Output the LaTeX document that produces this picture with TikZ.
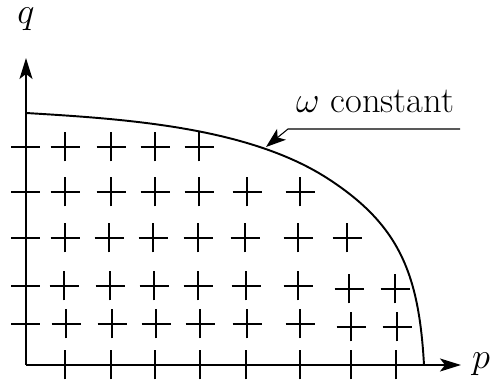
\documentclass[tikz,border=0pt]{standalone}
\usetikzlibrary{arrows.meta}
\tikzset{
  axis/.style={line width=0.9pt, -{Stealth[length=0.42cm, width=0.26cm, inset=0.1cm]}},
  cross/.style={line width=1pt},
  axlabel/.style={font=\huge, inner sep=1pt}
}
\begin{document}
\begin{tikzpicture}
\useasboundingbox (-0.52,-0.3) rectangle (9.3,7.3);
\draw[axis] (0,0) -- (8.7,0);
\draw[axis] (0,0) -- (0,6.14);
\node[axlabel, anchor=base] (plabel) at (9.1,-0.08) {$p$};
\node[axlabel, anchor=base] (qlabel) at (0,6.82) {$q$};
% the curve
\draw[line width=1.1pt] (0,5.04) .. controls (2,4.92) and (4.48,4.76) .. (6.08,3.7)
  .. controls (7.48,2.78) and (7.86,1.8) .. (7.96,0);
% grid of crosses
\foreach \x/\y in {0/4.36, 0.78/4.36, 1.7/4.36, 2.58/4.36, 3.46/4.36,
  0/3.46, 0.78/3.46, 1.7/3.46, 2.58/3.46, 3.46/3.46, 4.42/3.46, 5.48/3.46,
  0/2.54, 0.78/2.54, 1.66/2.54, 2.54/2.54, 3.44/2.54, 4.38/2.54, 5.44/2.54, 6.42/2.54,
  0/1.58, 0.76/1.58, 1.68/1.58, 2.56/1.58, 3.44/1.58, 4.4/1.58, 5.44/1.58, 6.46/1.52, 7.38/1.52,
  0/0.82, 0.8/0.82, 1.72/0.82, 2.6/0.82, 3.48/0.82, 4.42/0.82, 5.48/0.82, 6.5/0.76, 7.42/0.76,
  0.78/0, 1.7/0, 2.58/0, 3.48/0, 4.4/0, 5.48/0, 6.5/0, 7.4/0}
  \draw[cross] (\x-0.29,\y) -- (\x+0.29,\y) (\x,\y-0.29) -- (\x,\y+0.29);
% label of the curve
\node[axlabel, anchor=base] (omega) at (6.98,5.04) {$\omega$ constant};
\coordinate (lead) at (8.68,4.72);
\coordinate (knee) at (5.24,4.72);
\coordinate (tip) at (4.8,4.36);
\draw[line width=0.6pt, -{Stealth[length=0.4cm, width=0.28cm, inset=0.1cm]}] (lead) -- (knee) -- (tip);
\end{tikzpicture}
\end{document}
